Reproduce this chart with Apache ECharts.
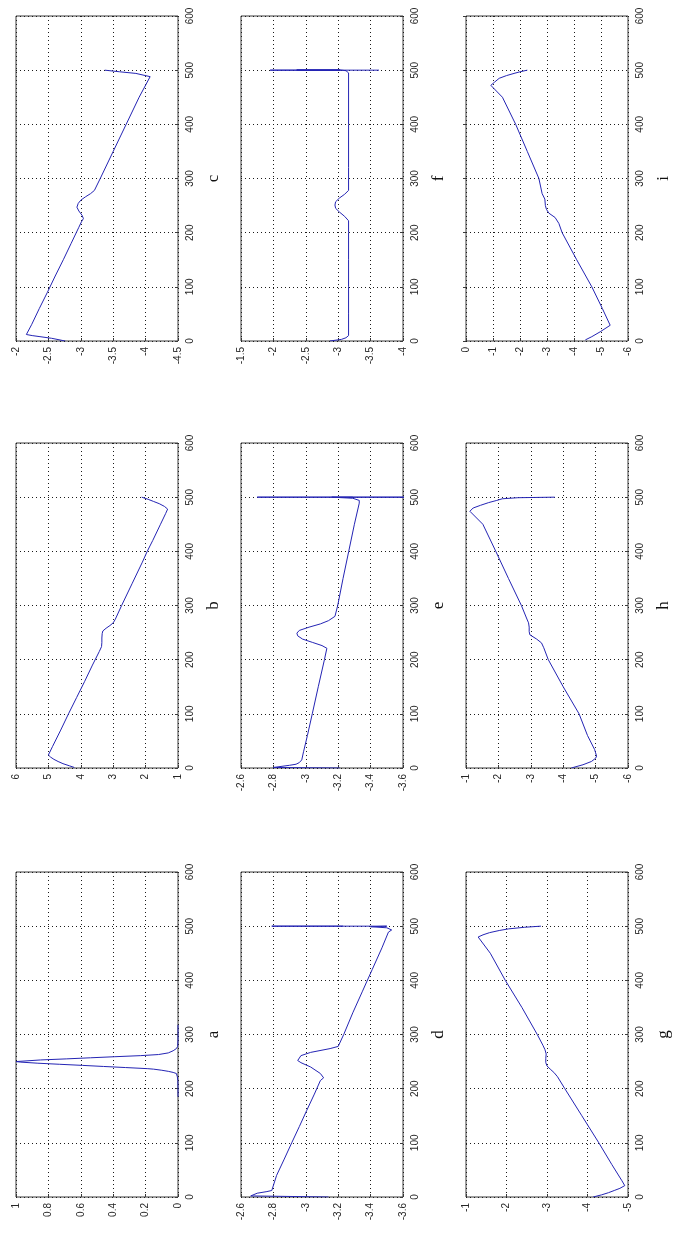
<!DOCTYPE html>
<html>
<head>
<meta charset="utf-8">
<script src="https://cdn.jsdelivr.net/npm/echarts@6/dist/echarts.min.js"></script>
<style>
  html, body { margin: 0; padding: 0; background: #fff; }
  #chart { width: 673px; height: 1234px; }
</style>
</head>
<body>
<div id="chart"></div>
<script>
// Nine profiles (a–i), each sampled along a 0–600 step axis.
const panelLetters = ['a', 'b', 'c', 'd', 'e', 'f', 'g', 'h', 'i'];

// Step axis (shared by all panels)
const stepMin = 0, stepMax = 600, stepInterval = 100;

// Value axis range for each panel
const valueMin      = [0, 1, -4.5, -3.6, -3.6, -4, -5, -6, -6];
const valueMax      = [1, 6, -2,   -2.6, -2.6, -1.5, -1, -1, 0];
const valueInterval = [0.2, 1, 0.5, 0.2, 0.2, 0.5, 1, 1, 1];

// a
const stepsA  = [185, 200, 215, 222, 228, 230, 232, 234, 236, 237, 239, 241, 243, 245, 247, 249, 250, 251, 253, 255, 257, 259, 261, 263, 266, 270, 274, 278, 290, 305, 318];
const valuesA = [0, 0, 0.001, 0.004, 0.01, 0.03, 0.06, 0.1, 0.15, 0.19, 0.325, 0.46, 0.59, 0.73, 0.865, 0.97, 1.0, 0.99, 0.85, 0.69, 0.54, 0.39, 0.23, 0.12, 0.06, 0.03, 0.01, 0.002, 0, 0, 0];

// b
const stepsB  = [1, 4, 8, 12, 16, 20, 24, 40, 70, 100, 130, 160, 190, 215, 224, 232, 240, 248, 253, 258, 263, 268, 274, 300, 340, 380, 400, 420, 450, 470, 478, 483, 488, 492, 496, 500];
const valuesB = [4.2, 4.35, 4.55, 4.7, 4.83, 4.93, 5.0, 4.87, 4.62, 4.38, 4.13, 3.88, 3.64, 3.43, 3.36, 3.35, 3.35, 3.34, 3.32, 3.22, 3.1, 3.0, 2.94, 2.74, 2.42, 2.1, 1.95, 1.78, 1.54, 1.38, 1.32, 1.42, 1.58, 1.75, 1.92, 2.12];

// c
const stepsC  = [0, 2, 5, 8, 10, 12, 14, 30, 60, 90, 120, 150, 180, 210, 220, 226, 232, 240, 247, 254, 260, 266, 272, 278, 300, 350, 400, 450, 488, 491, 494, 497, 500];
const valuesC = [-2.76, -2.73, -2.55, -2.37, -2.25, -2.16, -2.16, -2.24, -2.36, -2.485, -2.605, -2.73, -2.85, -2.97, -3.01, -3.04, -3.02, -2.97, -2.94, -2.96, -3.0, -3.07, -3.15, -3.21, -3.3, -3.5, -3.7, -3.9, -4.07, -4.04, -3.85, -3.6, -3.37];

// d
const stepsD  = [0, 1, 2, 4, 7, 10, 12, 14, 40, 70, 100, 130, 160, 190, 215, 220, 228, 240, 248, 252, 255, 261, 267, 274, 278, 300, 340, 380, 420, 460, 489, 493, 497, 499, 500, 500, 500];
const valuesD = [-3.14, -3.14, -2.66, -2.65, -2.7, -2.76, -2.79, -2.78, -2.82, -2.867, -2.913, -2.96, -3.006, -3.053, -3.09, -3.11, -3.09, -3.03, -2.97, -2.95, -2.95, -2.97, -3.03, -3.15, -3.2, -3.234, -3.29, -3.35, -3.41, -3.47, -3.51, -3.53, -3.5, -3.4, -3.5, -2.79, -3.23];

// e
const stepsE  = [0, 1, 4, 5, 7, 10, 15, 30, 60, 100, 150, 200, 221, 226, 232, 238, 244, 249, 254, 260, 266, 272, 280, 300, 350, 400, 450, 489, 494, 498, 500, 500, 500, 500, 500];
const valuesE = [-3.21, -2.8, -2.8, -2.9, -2.94, -2.96, -2.975, -2.986, -3.01, -3.04, -3.077, -3.115, -3.13, -3.1, -3.04, -2.98, -2.95, -2.945, -2.96, -3.02, -3.09, -3.14, -3.18, -3.197, -3.23, -3.265, -3.3, -3.33, -3.33, -3.29, -3.16, -2.7, -3.62, -3.16, -3.29];

// f
const stepsF  = [0, 1, 3, 6, 10, 50, 100, 150, 200, 222, 230, 238, 245, 251, 257, 264, 271, 278, 320, 400, 495, 499, 500, 500, 500, 500, 500, 500, 500];
const valuesF = [-2.87, -2.88, -3.05, -3.12, -3.16, -3.16, -3.16, -3.16, -3.16, -3.16, -3.1, -3.02, -2.96, -2.95, -2.96, -3.02, -3.1, -3.16, -3.16, -3.16, -3.16, -3.12, -3.05, -2.36, -3.03, -2.36, -3.03, -1.95, -3.63];

// g
const stepsG  = [0, 4, 8, 12, 16, 21, 30, 60, 100, 150, 200, 222, 230, 236, 242, 248, 256, 264, 272, 280, 300, 350, 400, 450, 480, 484, 488, 492, 495, 498, 500];
const valuesG = [-4.14, -4.35, -4.52, -4.66, -4.8, -4.92, -4.85, -4.6, -4.28, -3.86, -3.44, -3.26, -3.17, -3.08, -3.0, -2.97, -2.97, -2.98, -2.95, -2.9, -2.76, -2.38, -1.97, -1.6, -1.3, -1.42, -1.58, -1.82, -2.05, -2.45, -2.85];

// h
const stepsH  = [0, 6, 12, 18, 22, 28, 34, 60, 100, 150, 200, 222, 231, 238, 246, 252, 260, 268, 275, 300, 350, 400, 450, 474, 480, 485, 490, 494, 497, 499, 500];
const valuesH = [-4.25, -4.61, -4.87, -5.0, -5.03, -5.0, -4.97, -4.75, -4.49, -4.0, -3.54, -3.4, -3.33, -3.18, -2.97, -2.95, -2.95, -2.93, -2.88, -2.71, -2.31, -1.92, -1.52, -1.12, -1.22, -1.45, -1.7, -1.95, -2.12, -2.6, -3.74];

// i
const stepsI  = [2, 8, 17, 29, 60, 100, 150, 200, 217, 228, 236, 243, 250, 262, 272, 300, 350, 400, 450, 472, 478, 485, 490, 494, 497, 500];
const valuesI = [-4.42, -4.66, -4.97, -5.34, -5.05, -4.66, -4.1, -3.56, -3.44, -3.3, -3.07, -2.98, -2.94, -2.92, -2.82, -2.7, -2.27, -1.84, -1.35, -0.92, -1.06, -1.23, -1.5, -1.78, -2.0, -2.27];

const panelSteps  = [stepsA, stepsB, stepsC, stepsD, stepsE, stepsF, stepsG, stepsH, stepsI];
const panelValues = [valuesA, valuesB, valuesC, valuesD, valuesE, valuesF, valuesG, valuesH, valuesI];

// Page is laid out sideways: step axis runs upward, value axis grows leftward.
const colLeft = [16, 241, 466];
const rowTop  = [16, 443, 872];
const plotW = 162, plotH = 325;

const frameColor = '#3a3a3a';
const gridLineStyle = { color: '#1a1a1a', type: [1, 3], width: 1 };
const tickFont = { fontSize: 10, color: '#262626', fontFamily: 'Liberation Sans, Arial, sans-serif' };

const grids = [], xAxes = [], yAxes = [], series = [];

panelLetters.forEach((letter, k) => {
  const r = Math.floor(k / 3), c = k % 3;
  grids.push({
    left: colLeft[r], top: rowTop[2 - c], width: plotW, height: plotH,
    show: true, borderColor: frameColor, borderWidth: 1, backgroundColor: '#fff',
    containLabel: false, outerBoundsMode: 'none'
  });
  xAxes.push({
    gridIndex: k, type: 'value', inverse: true, position: 'bottom',
    min: valueMin[k], max: valueMax[k], interval: valueInterval[k],
    axisLine: { show: false },
    axisTick: { show: true, inside: true, length: 3, lineStyle: { color: frameColor } },
    axisLabel: Object.assign({ rotate: 90, margin: 6, showMinLabel: true, showMaxLabel: true, hideOverlap: false }, tickFont),
    splitLine: { show: true, lineStyle: gridLineStyle }
  });
  yAxes.push({
    gridIndex: k, type: 'value', position: 'right',
    min: stepMin, max: stepMax, interval: stepInterval,
    name: letter, nameLocation: 'middle', nameRotate: 90, nameGap: 27,
    nameTextStyle: { fontFamily: 'Liberation Serif, Times New Roman, serif', fontSize: 17, color: '#111' },
    axisLine: { show: false },
    axisTick: { show: true, inside: true, length: 3, lineStyle: { color: frameColor } },
    axisLabel: Object.assign({ rotate: 90, margin: 7, showMinLabel: true, showMaxLabel: true, hideOverlap: false }, tickFont),
    splitLine: { show: true, lineStyle: gridLineStyle }
  });
  const steps = panelSteps[k], values = panelValues[k];
  series.push({
    type: 'line', xAxisIndex: k, yAxisIndex: k,
    data: steps.map((s, i) => [values[i], s]),
    showSymbol: false, symbol: 'none', clip: true, silent: true,
    lineStyle: { color: '#2424b4', width: 1 }
  });
});

const chart = echarts.init(document.getElementById('chart'), null, { renderer: 'canvas' });
chart.setOption({
  animation: false,
  backgroundColor: '#fff',
  grid: grids, xAxis: xAxes, yAxis: yAxes, series: series
});
</script>
</body>
</html>
